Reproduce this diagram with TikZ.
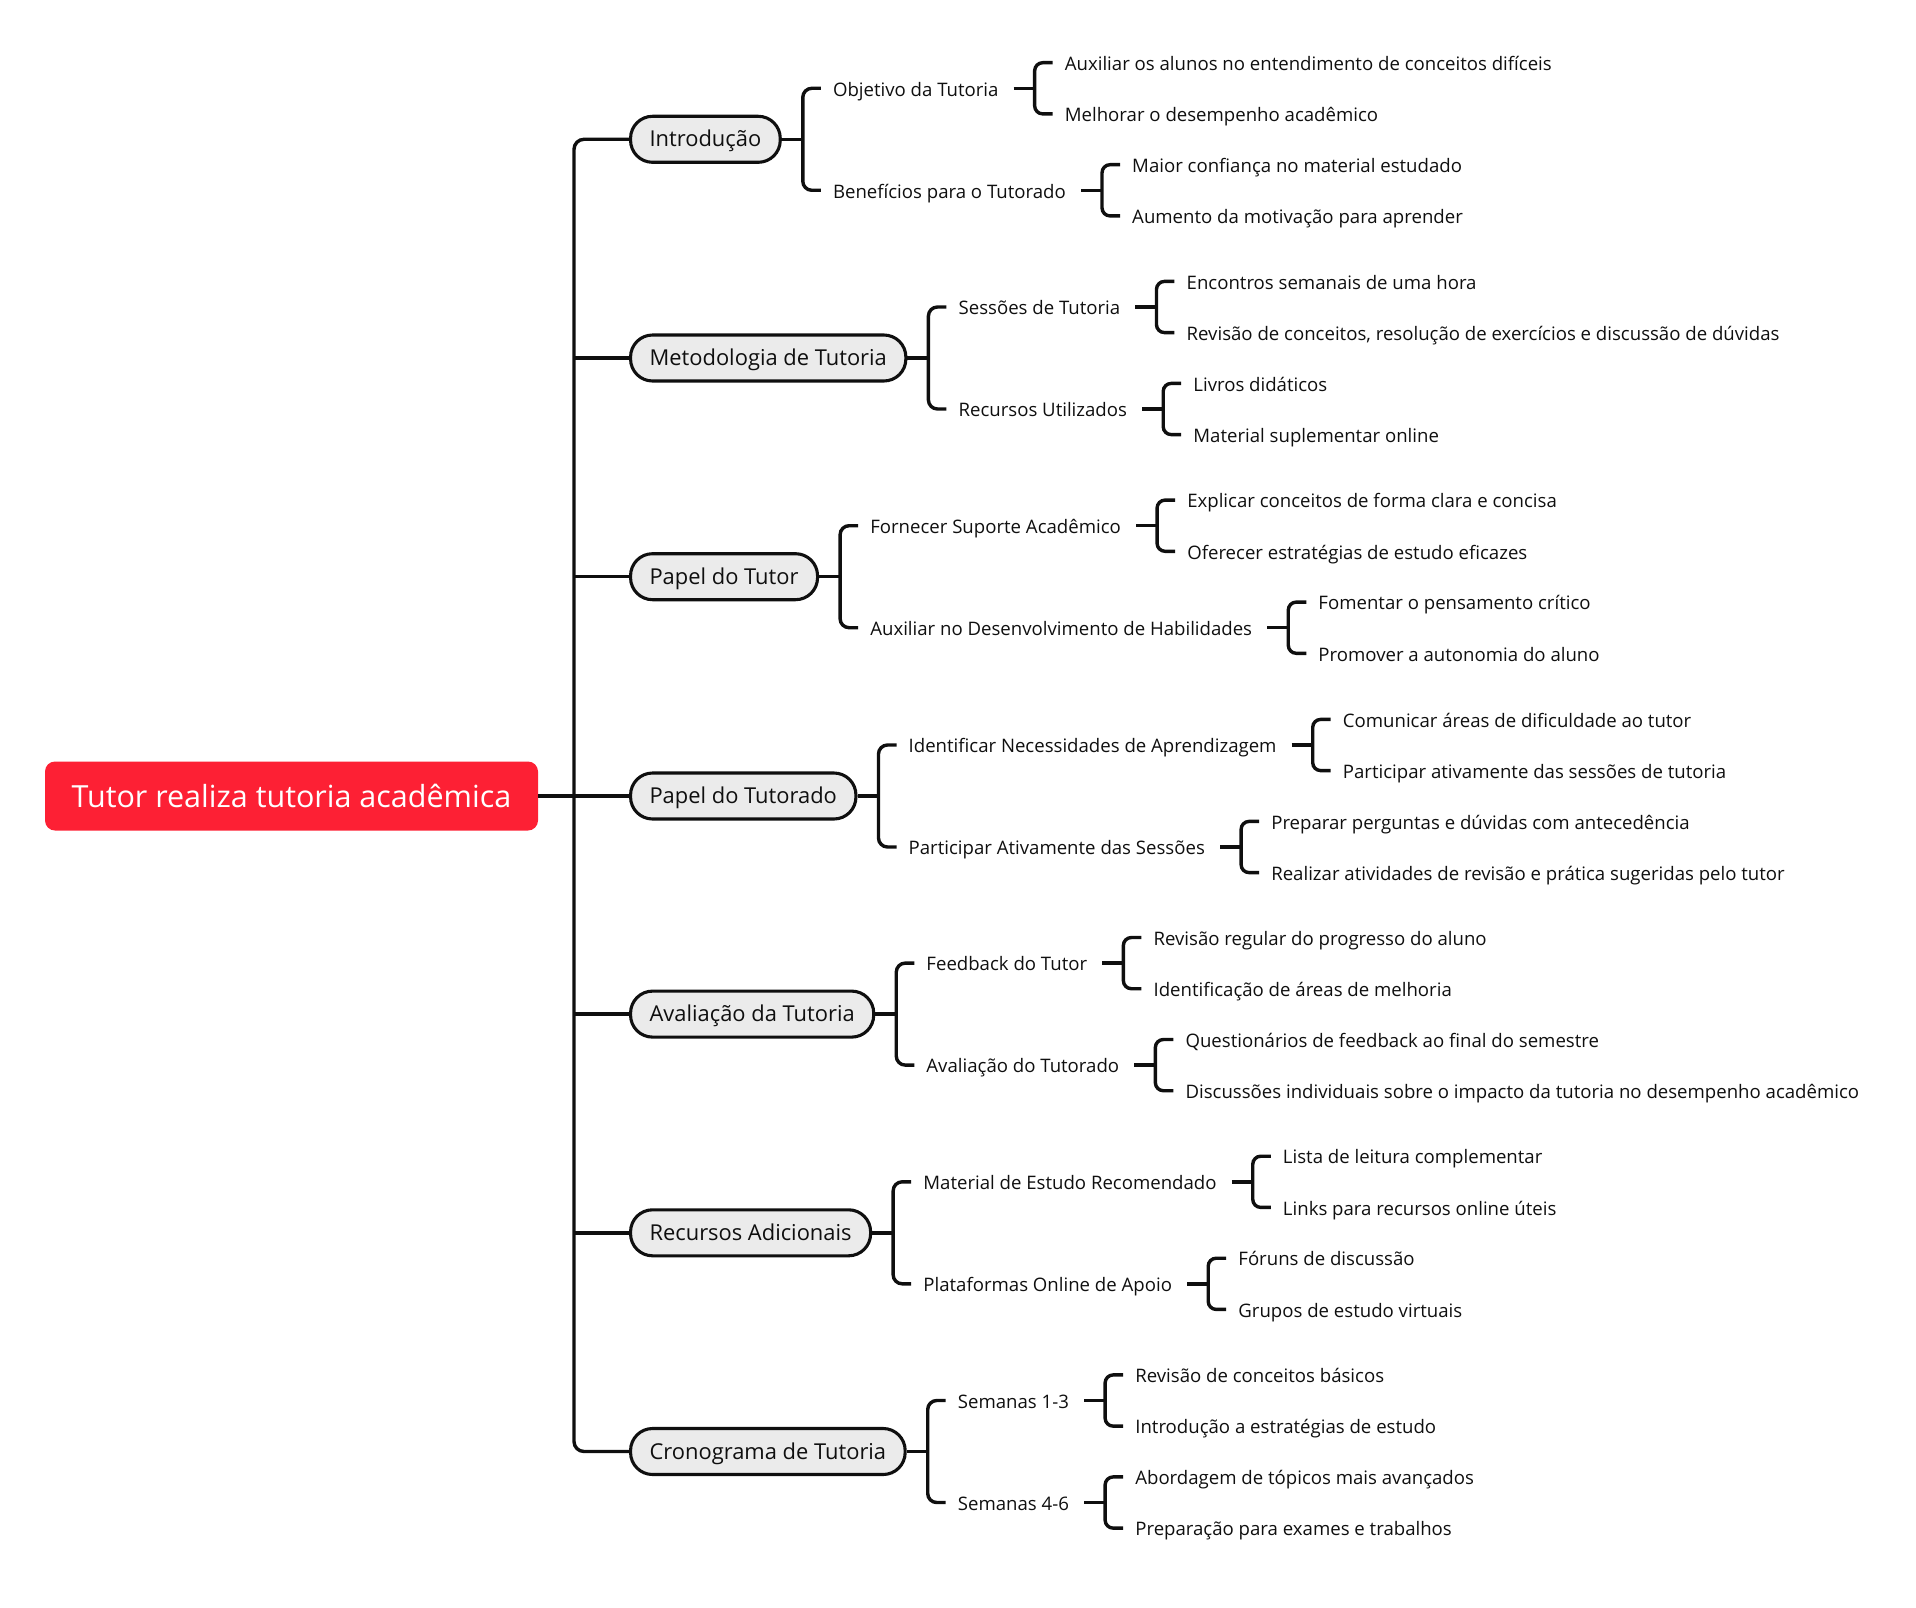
\documentclass[tikz,border=0pt]{standalone}
\usepackage{fontspec}
\setmainfont{Open Sans}
\usetikzlibrary{calc}
\definecolor{rootred}{RGB}{253,32,52}
\definecolor{pillgray}{RGB}{235,235,235}
\definecolor{ink}{RGB}{15,15,15}
\newcommand{\mmtopic}[9]{%
  \node[topic] (#1) at (629,#2) {#3};
  \coordinate (#1b) at ($(#1.east)+(21,0)$);
  \node[subtopic] (#1a) at ($(#1b)+(18,-51)$) {#4};
  \node[subtopic] (#1c) at ($(#1b)+(18,51)$) {#7};
  \draw[conn] (#1.east) -- (#1b);
  \draw[conn,rounded corners=9pt] (#1a.west) -| (#1b) |- (#1c.west);
  \coordinate (#1ab) at ($(#1a.east)+(24,0)$);
  \node[leafitem] (#1a1) at ($(#1ab)+(18,-25.6)$) {#5};
  \node[leafitem] (#1a2) at ($(#1ab)+(18,25.6)$) {#6};
  \draw[conn] ([xshift=3pt]#1a.east) -- (#1ab);
  \draw[conn,rounded corners=8pt] (#1a1.west) -| (#1ab) |- (#1a2.west);
  \coordinate (#1cb) at ($(#1c.east)+(24,0)$);
  \node[leafitem] (#1c1) at ($(#1cb)+(18,-25.6)$) {#8};
  \node[leafitem] (#1c2) at ($(#1cb)+(18,25.6)$) {#9};
  \draw[conn] ([xshift=3pt]#1c.east) -- (#1cb);
  \draw[conn,rounded corners=8pt] (#1c1.west) -| (#1cb) |- (#1c2.west);
}
\begin{document}
\begin{tikzpicture}[x=1pt,y=-1pt,
  conn/.style={line width=3.4pt, draw=ink},
  rootbox/.style={fill=rootred, rounded corners=10pt, minimum width=493pt, minimum height=69pt, text=white, inner sep=0pt, font=\fontsize{30.5}{36}\selectfont},
  topic/.style={draw=ink, line width=3.1pt, fill=pillgray, rounded corners=22pt, minimum height=46pt, inner xsep=19pt, anchor=west, text height=17.5pt, text depth=2.5pt, font=\fontsize{21.9}{26}\selectfont, text=ink},
  subtopic/.style={anchor=west, inner xsep=12pt, inner ysep=2pt, text height=17pt, text depth=1.5pt, font=\fontsize{18.6}{22}\selectfont, text=ink},
  leafitem/.style={subtopic},
]
\useasboundingbox (0,0) rectangle (1916,1608);
\node[rootbox] (root) at (291.5,796) {Tutor realiza tutoria acadêmica};
\coordinate (trunk) at (574,796);

\mmtopic{tA}{139.3}{Introdução}{Objetivo da Tutoria}{Auxiliar os alunos no entendimento de conceitos difíceis}{Melhorar o desempenho acadêmico}{Benefícios para o Tutorado}{Maior confiança no material estudado}{Aumento da motivação para aprender}
\mmtopic{tB}{358}{Metodologia de Tutoria}{Sessões de Tutoria}{Encontros semanais de uma hora}{Revisão de conceitos, resolução de exercícios e discussão de dúvidas}{Recursos Utilizados}{Livros didáticos}{Material suplementar online}
\mmtopic{tC}{576.7}{Papel do Tutor}{Fornecer Suporte Acadêmico}{Explicar conceitos de forma clara e concisa}{Oferecer estratégias de estudo eficazes}{Auxiliar no Desenvolvimento de Habilidades}{Fomentar o pensamento crítico}{Promover a autonomia do aluno}
\mmtopic{tD}{796}{Papel do Tutorado}{Identificar Necessidades de Aprendizagem}{Comunicar áreas de dificuldade ao tutor}{Participar ativamente das sessões de tutoria}{Participar Ativamente das Sessões}{Preparar perguntas e dúvidas com antecedência}{Realizar atividades de revisão e prática sugeridas pelo tutor}
\mmtopic{tE}{1014.1}{Avaliação da Tutoria}{Feedback do Tutor}{Revisão regular do progresso do aluno}{Identificação de áreas de melhoria}{Avaliação do Tutorado}{Questionários de feedback ao final do semestre}{Discussões individuais sobre o impacto da tutoria no desempenho acadêmico}
\mmtopic{tF}{1232.8}{Recursos Adicionais}{Material de Estudo Recomendado}{Lista de leitura complementar}{Links para recursos online úteis}{Plataformas Online de Apoio}{Fóruns de discussão}{Grupos de estudo virtuais}
\mmtopic{tG}{1451.5}{Cronograma de Tutoria}{Semanas 1-3}{Revisão de conceitos básicos}{Introdução a estratégias de estudo}{Semanas 4-6}{Abordagem de tópicos mais avançados}{Preparação para exames e trabalhos}

\draw[conn,rounded corners=10pt] (tA.west) -| (trunk) |- (tG.west);
\draw[conn] (tB.west) -- (tB.west -| trunk);
\draw[conn] (tC.west) -- (tC.west -| trunk);
\draw[conn] (tE.west) -- (tE.west -| trunk);
\draw[conn] (tF.west) -- (tF.west -| trunk);
\draw[conn] (root.east) -- (tD.west);
\end{tikzpicture}
\end{document}
